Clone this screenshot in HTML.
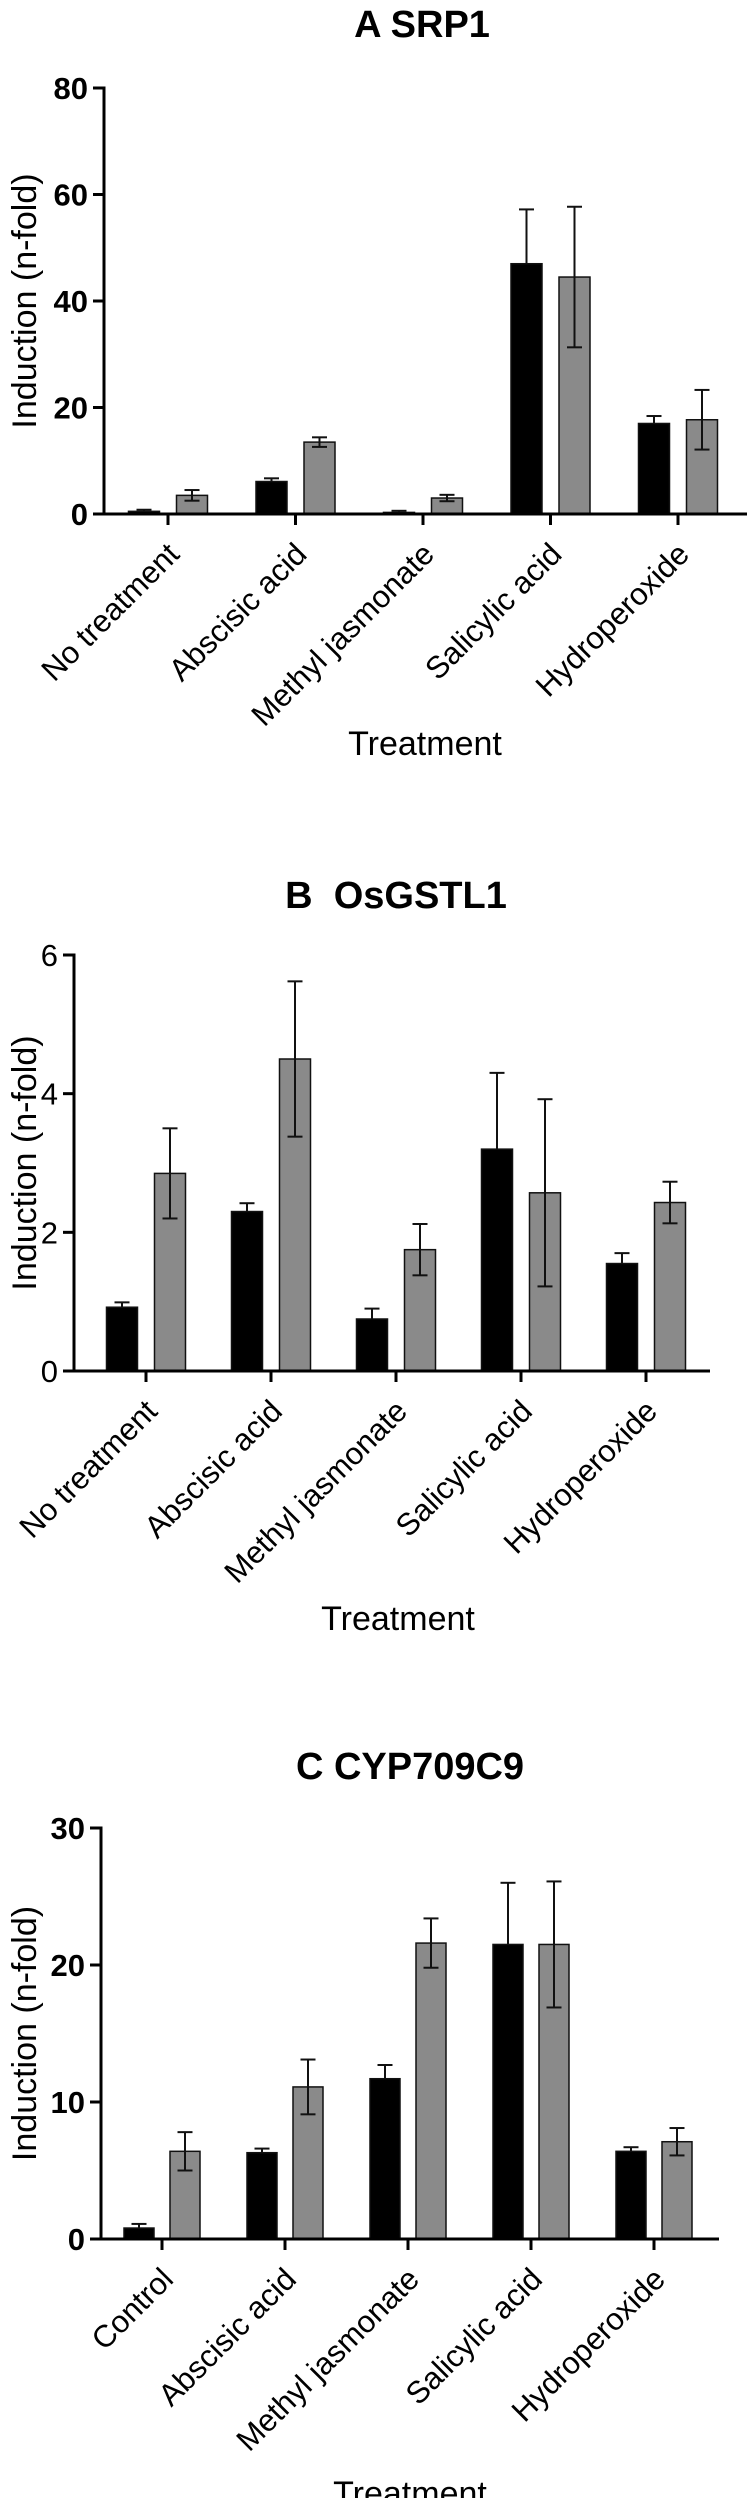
<!DOCTYPE html>
<html><head><meta charset="utf-8"><style>
html,body{margin:0;padding:0;background:#fff;}
svg{display:block;font-family:"Liberation Sans",Arial,sans-serif;}
</style></head><body>
<svg id="fig" width="753" height="2498" viewBox="0 0 753 2498" xmlns="http://www.w3.org/2000/svg"></svg>
<script>
// Panel A SRP1
const catsA = ["No treatment","Abscisic acid","Methyl jasmonate","Salicylic acid","Hydroperoxide"];
const blackA = [0.5, 6.1, 0.3, 47, 17];
const blackErrA = [0.3, 0.6, 0.3, 10.2, 1.4];
const grayA = [3.5, 13.5, 3.0, 44.5, 17.7];
const grayErrA = [1.0, 0.9, 0.6, 13.2, 5.6];
const ticksA = [0, 20, 40, 60, 80];
// Panel B OsGSTL1
const catsB = ["No treatment","Abscisic acid","Methyl jasmonate","Salicylic acid","Hydroperoxide"];
const blackB = [0.92, 2.3, 0.75, 3.2, 1.55];
const blackErrB = [0.07, 0.12, 0.15, 1.1, 0.15];
const grayB = [2.85, 4.5, 1.75, 2.57, 2.43];
const grayErrB = [0.65, 1.12, 0.37, 1.35, 0.3];
const ticksB = [0, 2, 4, 6];
// Panel C CYP709C9
const catsC = ["Control","Abscisic acid","Methyl jasmonate","Salicylic acid","Hydroperoxide"];
const blackC = [0.8, 6.3, 11.7, 21.5, 6.4];
const blackErrC = [0.3, 0.3, 1.0, 4.5, 0.3];
const grayC = [6.4, 11.1, 21.6, 21.5, 7.1];
const grayErrC = [1.4, 2.0, 1.8, 4.6, 1.0];
const ticksC = [0, 10, 20, 30];

const NS = "http://www.w3.org/2000/svg";
const svg = document.getElementById('fig');
function mk(tag, attrs, parent, text){
  const e = document.createElementNS(NS, tag);
  for (const k in attrs) e.setAttribute(k, attrs[k]);
  if (text !== undefined) e.textContent = text;
  parent.appendChild(e);
  return e;
}
function panel(cfg){
  const g = mk('g', {}, svg);
  
  
  const yMax = cfg.ticks[cfg.ticks.length-1];
  const yS = v => cfg.y0 - (v / yMax) * (cfg.y0 - cfg.yTop);
  const xS = i => cfg.firstTick + i * cfg.step;
  const t = mk('text', {x: cfg.titleX, y: cfg.titleY, 'text-anchor':'middle', 'font-size':38, 'font-weight':'bold', 'xml:space':'preserve', style:'white-space:pre'}, g, cfg.title);
  
  
  cfg.cats.forEach((c, i) => {
    const cx = xS(i);
    [[cfg.black, cfg.blackErr, -cfg.off, '#000'], [cfg.gray, cfg.grayErr, cfg.off, '#8a8a8a']].forEach((s, si) => {
      const v = s[0][i], e = s[1][i], bx = cx + s[2];
      const r = mk('rect', {x: bx - cfg.bw/2, y: yS(v), width: cfg.bw, height: cfg.y0 - yS(v), fill: s[3], stroke:'#111', 'stroke-width':1.5}, g);
      
      
      const eg = mk('g', {stroke:'#111', 'stroke-width':2}, g);
      
      
      const lo = si ? Math.max(0, v - e) : v;
      mk('line', {x1: bx, x2: bx, y1: yS(v + e), y2: yS(lo)}, eg);
      mk('line', {x1: bx - 7.5, x2: bx + 7.5, y1: yS(v + e), y2: yS(v + e)}, eg);
      if (si) mk('line', {x1: bx - 7.5, x2: bx + 7.5, y1: yS(lo), y2: yS(lo)}, eg);
    });
    const tk = mk('line', {x1: cx, x2: cx, y1: cfg.y0, y2: cfg.y0 + 11, stroke:'#000', 'stroke-width':3}, g);
    
    
    const lx = cx + 13, ly = cfg.y0 + 42;
    const lb = mk('text', {x: lx, y: ly, 'text-anchor':'end', 'font-size':31, transform:`rotate(-45 ${lx} ${ly})`}, g, c);
    
    
  });
  const ya = mk('line', {x1: cfg.axisX, x2: cfg.axisX, y1: cfg.yTop - 1.5, y2: cfg.y0 + 1.5, stroke:'#000', 'stroke-width':3}, g);
  
  
  const xa = mk('line', {x1: cfg.axisX - 10, x2: cfg.xEnd, y1: cfg.y0, y2: cfg.y0, stroke:'#000', 'stroke-width':3}, g);
  
  
  cfg.ticks.forEach(v => {
    mk('line', {x1: cfg.axisX - 11, x2: cfg.axisX, y1: yS(v), y2: yS(v), stroke:'#000', 'stroke-width':3}, g);
    const tl = mk('text', {x: cfg.axisX - 16, y: yS(v) + 11, 'text-anchor':'end', 'font-size':31, 'font-weight': cfg.boldTicks ? 'bold' : 'normal'}, g, String(v));
    
    
  });
  const yc = (cfg.y0 + cfg.yTop) / 2;
  const yt = mk('text', {x: 36, y: yc, 'text-anchor':'middle', 'font-size':34, transform:`rotate(-90 36 ${yc})`}, g, 'Induction (n-fold)');
  
  
  const xt = mk('text', {x: cfg.xTitleX, y: cfg.xTitleY, 'text-anchor':'middle', 'font-size':34}, g, 'Treatment');
  
  
}
panel({id:'panel-a', title:'A SRP1', titleX:422, titleY:37, cats:catsA, black:blackA, blackErr:blackErrA, gray:grayA, grayErr:grayErrA, ticks:ticksA,
  y0:514, yTop:88, axisX:104, xEnd:747, firstTick:168, step:127.5, off:24, bw:31, boldTicks:true, xTitleX:425, xTitleY:755});
panel({id:'panel-b', title:'B  OsGSTL1', titleX:396, titleY:908, cats:catsB, black:blackB, blackErr:blackErrB, gray:grayB, grayErr:grayErrB, ticks:ticksB,
  y0:1371, yTop:955, axisX:74, xEnd:710, firstTick:146, step:125, off:24, bw:31, boldTicks:false, xTitleX:398, xTitleY:1630});
panel({id:'panel-c', title:'C CYP709C9', titleX:410, titleY:1779, cats:catsC, black:blackC, blackErr:blackErrC, gray:grayC, grayErr:grayErrC, ticks:ticksC,
  y0:2239, yTop:1828, axisX:101, xEnd:719, firstTick:162, step:123, off:23, bw:30, boldTicks:true, xTitleX:410, xTitleY:2505});
</script>
</body></html>
